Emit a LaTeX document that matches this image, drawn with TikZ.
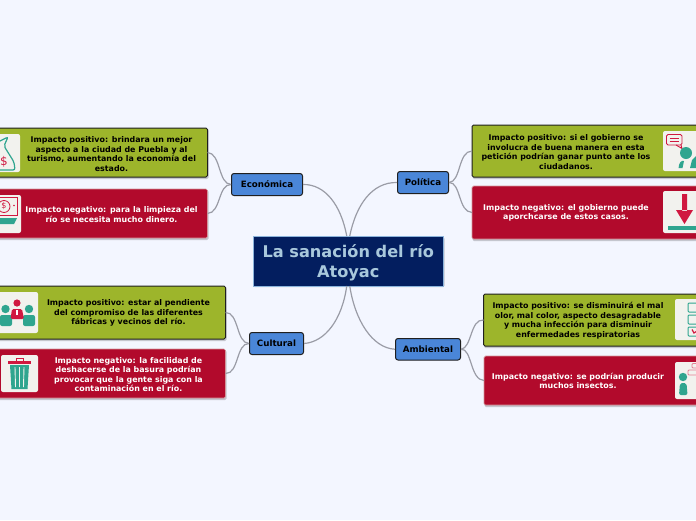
\documentclass[tikz,border=0pt]{standalone}
\usepackage{fontspec}
\setmainfont{DejaVu Sans}
\usetikzlibrary{calc}
\definecolor{bgc}{HTML}{F3F6FF}
\definecolor{grn}{HTML}{9DB52B}
\definecolor{rd}{HTML}{B20A2C}
\definecolor{blu}{HTML}{4A86D8}
\definecolor{nav}{HTML}{031E5F}
\definecolor{ttl}{HTML}{A9C8DC}
\definecolor{lnk}{HTML}{9A9CA6}
\definecolor{tl}{HTML}{2FA58F}
\definecolor{icr}{HTML}{D01840}
\definecolor{icb}{HTML}{F2F2EE}
\definecolor{shd}{HTML}{C4C6CE}
\tikzset{
  x=1pt,y=-1pt,
  greenbox/.style={draw=black!88,line width=1pt,fill=grn,rounded corners=1.5pt},
  redbox/.style={draw=red!25!shd,line width=0.7pt,fill=rd,rounded corners=1.5pt},
  topic/.style={draw=black!88,line width=1pt,fill=blu,rounded corners=2.5pt,inner sep=0pt,font=\fontsize{8.7}{9}\selectfont\bfseries,text=black},
  txt/.style={align=center,inner sep=0pt,font=\fontsize{7.9}{9.5}\selectfont\bfseries},
  link/.style={draw=lnk,line width=1.2pt},
  icon/.style={fill=icb,rounded corners=2pt},
  shadowrect/.style={fill=shd,draw=none,rounded corners=1.5pt}
}
\newcommand{\bx}[6]{% name, style, x1,y1,x2,y2
  \fill[shadowrect] (#3+0.5,#4+1) rectangle (#5+1,#6+2);
  \node[#2,anchor=north west,minimum width=#5pt-#3pt,minimum height=#6pt-#4pt,inner sep=0pt,outer sep=0pt] (#1) at (#3,#4) {};
}
\begin{document}
\begin{tikzpicture}
\useasboundingbox (0,0) rectangle (696,520);
\clip (0,0) rectangle (696,520);
\fill[bgc] (0,0) rectangle (696,520);

% shadows and boxes
\bx{lg1}{greenbox}{-12}{128}{207.5}{177}
\bx{lr1}{redbox}{-12}{189}{207.5}{238}
\bx{lg2}{greenbox}{-12}{286}{225.5}{339}
\bx{lr2}{redbox}{-12}{349}{225.5}{398}
\bx{rg1}{greenbox}{472}{125}{710}{177}
\bx{rr1}{redbox}{472}{186}{710}{239}
\bx{rg2}{greenbox}{483.5}{294}{710}{346}
\bx{rr2}{redbox}{484}{356}{710}{405}

\fill[shadowrect] (253.5,237) rectangle (444.5,287.2);
\node[fill=nav,draw=ttl!70!blu,line width=0.5pt,anchor=north west,minimum width=190.5pt,minimum height=50pt,inner sep=0pt,outer sep=0pt] (c) at (253,236) {};
\node[align=center,inner sep=0pt,text=ttl,font=\fontsize{16.15}{20}\selectfont\bfseries] (t0) at (348.3,262.3) {La sanación del río\\Atoyac};

\node[topic,anchor=north west,minimum width=71pt,minimum height=22pt] (eco) at (231,173) {Económica};
\node[topic,anchor=north west,minimum width=51pt,minimum height=22pt] (pol) at (397,171) {Política};
\node[topic,anchor=north west,minimum width=54pt,minimum height=22pt] (cul) at (249,332) {Cultural};
\node[topic,anchor=north west,minimum width=65pt,minimum height=21.5pt] (amb) at (395,338) {Ambiental};

% connectors
\draw[link] ($(c.north)+(-1.5,0)$) .. controls (341,205) and (325,184) .. (eco.east);
\draw[link] ($(c.north)+(1.5,0)$) .. controls (356,205) and (372,182) .. (pol.west);
\draw[link] ($(c.south)+(-1.5,0)$) .. controls (342,320) and (325,342) .. (cul.east);
\draw[link] ($(c.south)+(1.5,0)$) .. controls (355,320) and (372,348) .. (amb.west);
\draw[link] (eco.west) .. controls (218,184) and (221,153) .. (lg1.east);
\draw[link] (eco.west) .. controls (218,184) and (221,213) .. (lr1.east);
\draw[link] (cul.west) .. controls (236,343) and (239,312) .. (lg2.east);
\draw[link] (cul.west) .. controls (236,343) and (239,374) .. (lr2.east);
\draw[link] (pol.east) .. controls (461,182) and (458,151) .. (rg1.west);
\draw[link] (pol.east) .. controls (461,182) and (458,212) .. (rr1.west);
\draw[link] (amb.east) .. controls (472,348) and (470,319) .. (rg2.west);
\draw[link] (amb.east) .. controls (472,348) and (470,380) .. (rr2.west);

% texts
\node[txt,text=black] (t1) at (111.5,154) {Impacto positivo: brindara un mejor\\aspecto a la ciudad de Puebla y al\\turismo, aumentando la economía del\\estado.};
\node[txt,text=white] (t2) at (111.5,214.5) {Impacto negativo: para la limpieza del\\río se necesita mucho dinero.};
\node[txt,text=black] (t3) at (128.5,313) {Impacto positivo: estar al pendiente\\del compromiso de las diferentes\\fábricas y vecinos del río.};
\node[txt,text=white] (t4) at (128.5,374.5) {Impacto negativo: la facilidad de\\deshacerse de la basura podrían\\provocar que la gente siga con la\\contaminación en el río.};
\node[txt,text=black] (t5) at (566,152) {Impacto positivo: si el gobierno se\\involucra de buena manera en esta\\petición podrían ganar punto ante los\\ciudadanos.};
\node[txt,text=white] (t6) at (566,213) {Impacto negativo: el gobierno puede\\aporchcarse de estos casos.};
\node[txt,text=black] (t7) at (578,320.5) {Impacto positivo: se disminuirá el mal\\olor, mal color, aspecto desagradable\\y mucha infección para disminuir\\enfermedades respiratorias};
\node[txt,text=white] (t8) at (578,381) {Impacto negativo: se podrían producir\\muchos insectos.};

% icon: money bag
\fill[icon] (-10,134) rectangle (20,172);
\draw[tl,line width=1.2pt,rounded corners=2pt] (-4,148) -- (-9,170) -- (15,170) -- (14,162) -- (4,146) -- (8,137) -- (0,141);
\node[text=icr,font=\fontsize{12}{12}\selectfont] (ic1) at (4,161.5) {\$};
% icon: money in hand
\fill[icon] (-10,195) rectangle (21,233);
\draw[icr,line width=1pt] (-8,197.5) rectangle (17,215);
\draw[icr,line width=0.8pt] (4,206.5) circle (6);
\node[text=icr,font=\fontsize{8}{8}\selectfont] (ic2) at (4,206.5) {\$};
\fill[icr] (14,205.5) circle (0.9);
\fill[tl] (-8,218) -- (17,218) -- (14,224) -- (-8,224) -- cycle;
% icon: meeting
\fill[icon] (-10,292) rectangle (38,333);
\fill[tl] (5.5,309) circle (4.2) (29,309) circle (4.2);
\fill[tl,rounded corners=2pt] (0,315) rectangle (12,326) (23,315) rectangle (35,326);
\fill[icr] (17,303) circle (3.6);
\fill[icr,rounded corners=1.5pt] (10.5,319) -- (12,309) -- (22,309) -- (24,319) -- cycle;
\fill[white] (16,309.5) rectangle (18,315);
% icon: trash
\fill[icon] (1,355) rectangle (38,392);
\fill[icr] (8,361) rectangle (31,364);
\draw[icr,line width=1pt] (16,361) -- (16,358.5) -- (23,358.5) -- (23,361);
\fill[tl] (10,365) -- (29,365) -- (27.5,389) -- (11.5,389) -- cycle;
\draw[icb,line width=0.9pt] (15,367) -- (15.5,387) (19.5,367) -- (19.5,387) (24,367) -- (23.5,387);
% icon: speech and person
\fill[icon] (663,131) rectangle (710,171);
\draw[icr,line width=0.9pt,rounded corners=1.5pt] (666.5,134.5) rectangle (682,145);
\draw[icr,line width=0.9pt] (676,145) -- (682,148.5) -- (681,145);
\draw[icr,line width=0.8pt] (669.5,138) -- (679,138) (669.5,141) -- (679,141);
\fill[tl] (686,153) circle (6);
\fill[tl] (678.5,168) .. controls (679,163) and (681,160) .. (684,161) -- (682.5,168) -- cycle;
\fill[tl] (690,168) -- (692,160) -- (697,155) -- (697,168) -- cycle;
% icon: download
\fill[icon] (663,191) rectangle (710,233);
\fill[icr] (682,194) rectangle (687,211) (676,210) -- (693,210) -- (684.5,224) -- cycle;
\fill[tl] (668,226) rectangle (697,230);
% icon: checklist
\fill[icon] (675,299) rectangle (710,340);
\draw[tl,line width=1pt,rounded corners=1pt] (688,303) rectangle (700,312) (688,315) rectangle (700,324) (688,327) rectangle (700,336);
\draw[icr,line width=1.2pt] (692,329.5) -- (694,333) -- (697,331);
% icon: person with bubbles
\fill[icon] (675,362) rectangle (710,399);
\fill[tl] (683,377) circle (4.2);
\fill[tl,rounded corners=2pt] (679,395) -- (680,383) -- (686.5,383) -- (687.5,395) -- cycle;
\draw[icr!55!white,line width=0.8pt,rounded corners=1pt] (692,363.5) rectangle (700,368) (688,370) rectangle (700,375);
\end{tikzpicture}
\end{document}
